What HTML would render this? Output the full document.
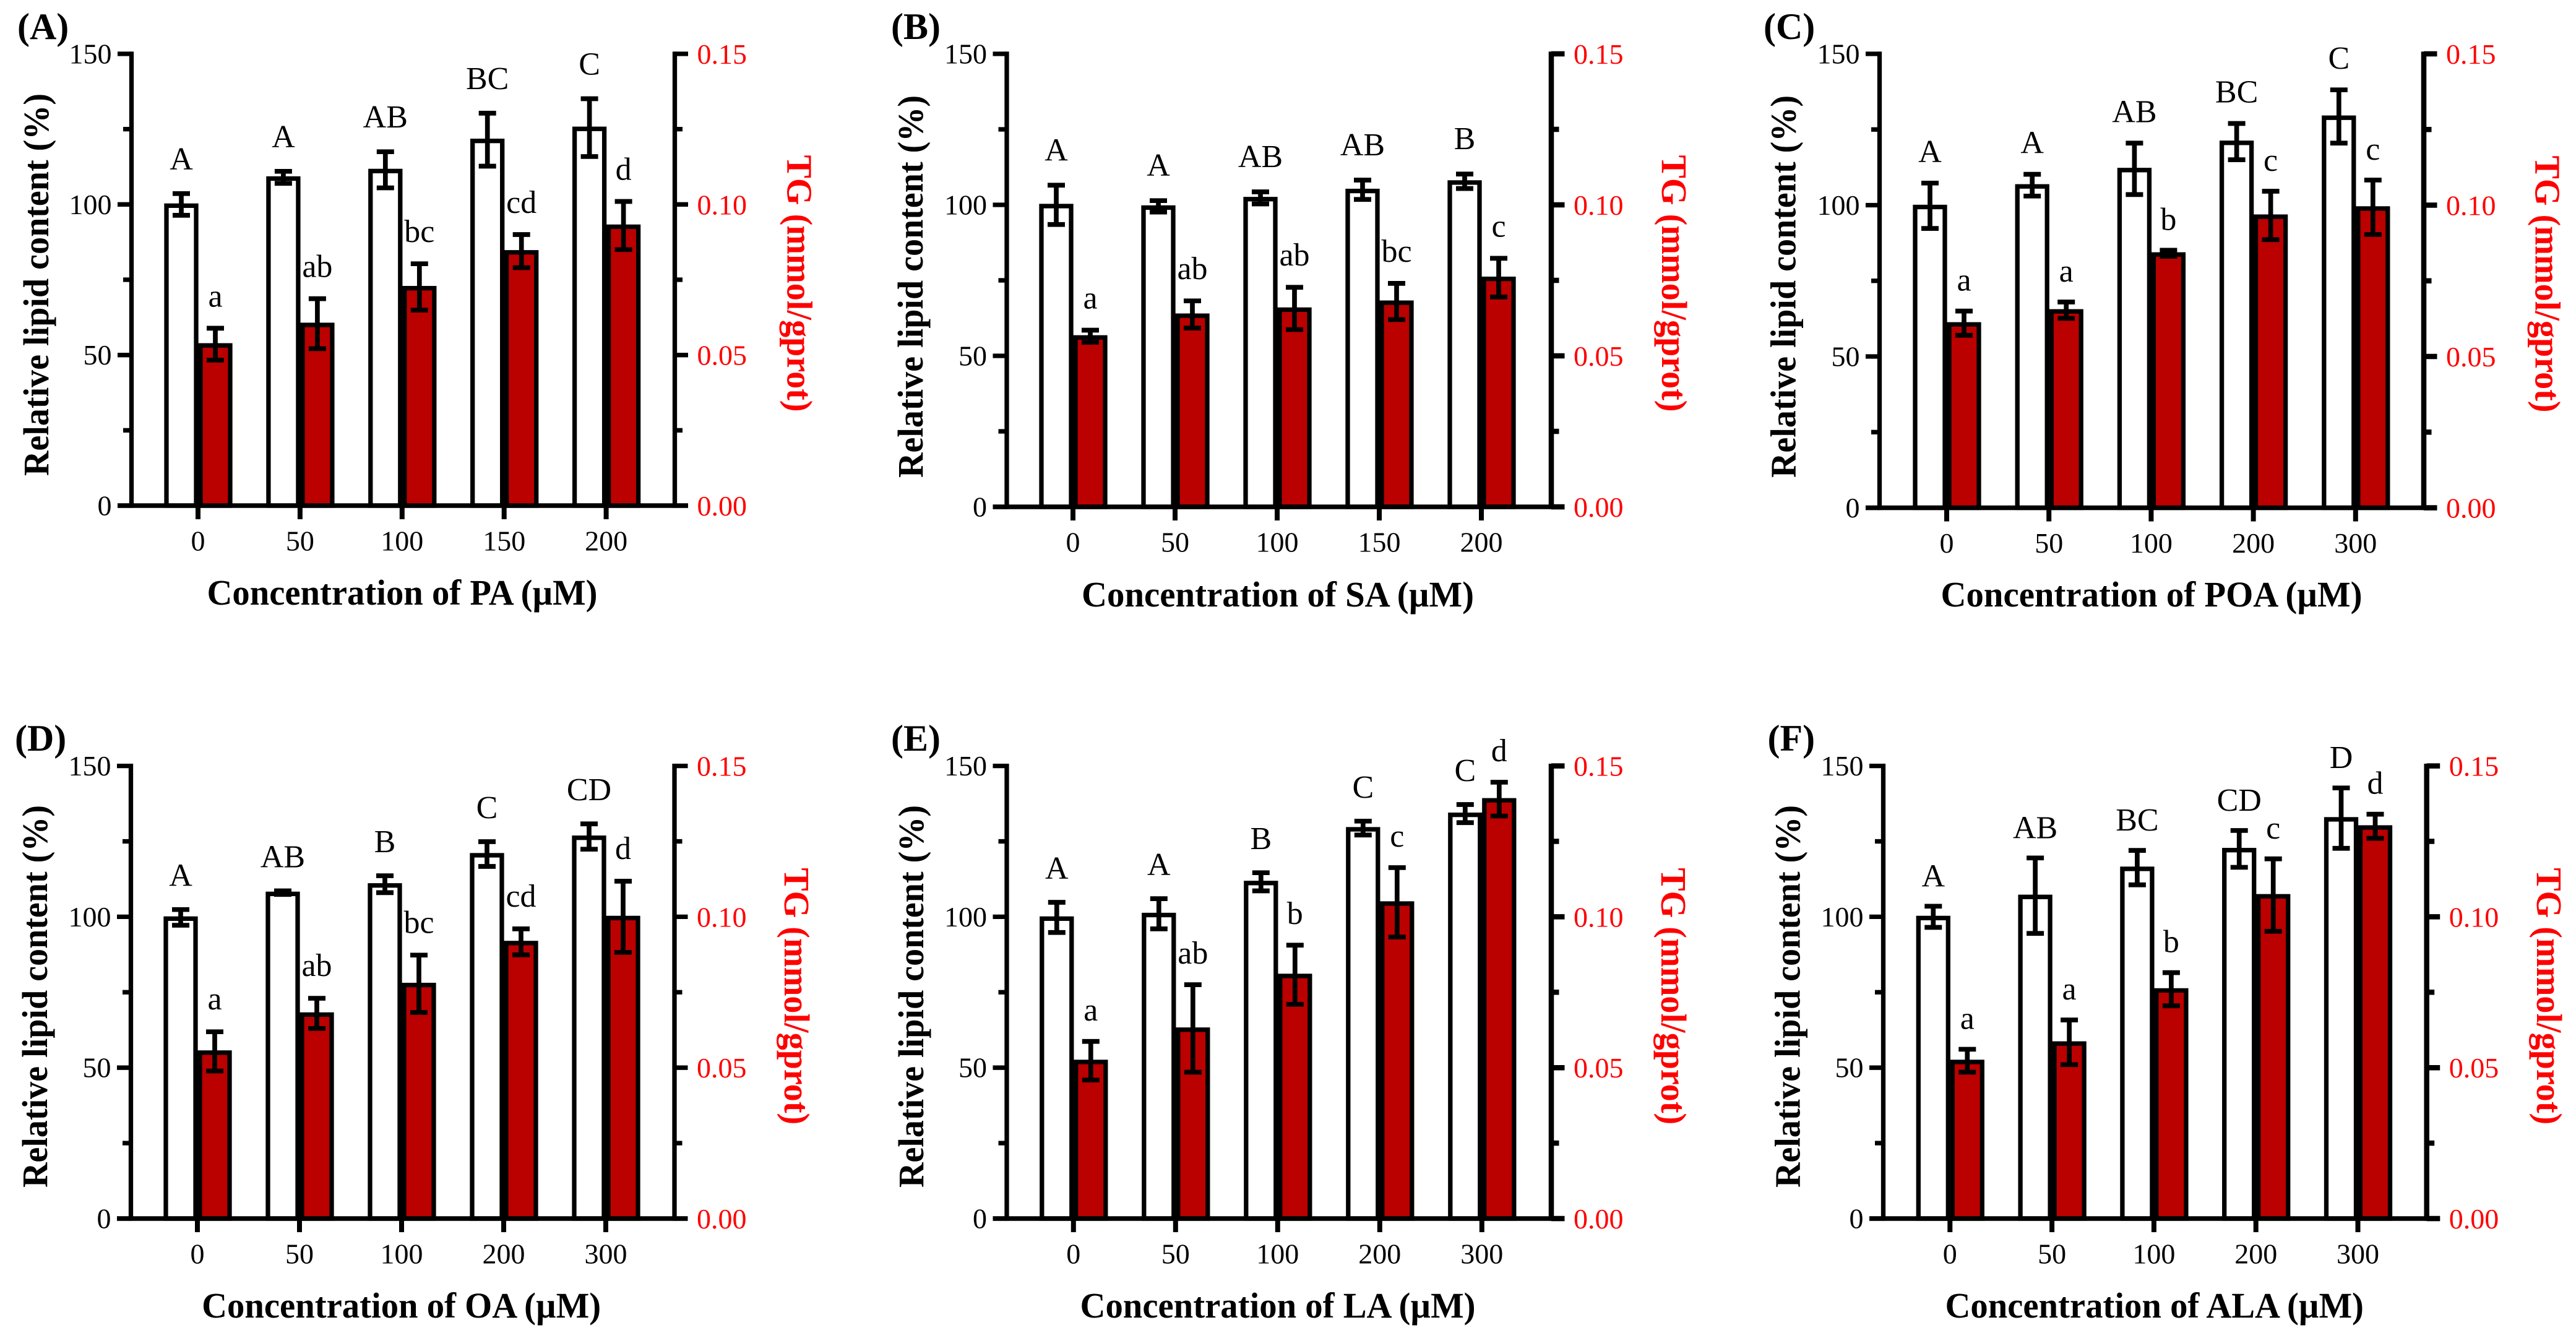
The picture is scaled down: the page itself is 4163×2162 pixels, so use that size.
<!DOCTYPE html>
<html lang="en">
<head>
<meta charset="utf-8">
<title>Lipid content and TG across fatty acid concentrations</title>
<style>
html,body{margin:0;padding:0;background:#fff;width:4163px;height:2162px;overflow:hidden}
svg{display:block}
text{font-family:"Liberation Serif",serif}
</style>
</head>
<body>
<svg id="figure" xmlns="http://www.w3.org/2000/svg" width="4163" height="2162" viewBox="0 0 4163 2162"></svg>
<script>
// ---- Panel A (PA) ----
const categoriesA = ['0','50','100','150','200'];
const lipidA = [100,109,111.5,121.5,125.5];
const lipidErrA = [3.6,2,6,8.8,9.6];
const tgA = [0.0536,0.0604,0.0726,0.0845,0.093];
const tgErrA = [0.0053,0.0083,0.0077,0.0055,0.008];
const lipidLettersA = ['A','A','AB','BC','C'];
const tgLettersA = ['a','ab','bc','cd','d'];
// ---- Panel B (SA) ----
const categoriesB = ['0','50','100','150','200'];
const lipidB = [100,99.5,102.3,105,107.8];
const lipidErrB = [6.5,1.9,2,3.2,2.4];
const tgB = [0.0565,0.0637,0.0657,0.068,0.0759];
const tgErrB = [0.002,0.0045,0.007,0.006,0.0064];
const lipidLettersB = ['A','A','AB','AB','B'];
const tgLettersB = ['a','ab','ab','bc','c'];
// ---- Panel C (POA) ----
const categoriesC = ['0','50','100','200','300'];
const lipidC = [99.8,106.6,112,121,129.3];
const lipidErrC = [7.5,3.6,8.5,6,8.8];
const tgC = [0.061,0.0653,0.0841,0.0966,0.0993];
const tgErrC = [0.004,0.0027,0.001,0.008,0.009];
const lipidLettersC = ['A','A','AB','BC','C'];
const tgLettersC = ['a','a','b','c','c'];
// ---- Panel D (OA) ----
const categoriesD = ['0','50','100','200','300'];
const lipidD = [99.8,108,110.8,120.8,126.6];
const lipidErrD = [2.6,0.6,2.8,4.1,4.2];
const tgD = [0.0554,0.068,0.0778,0.0917,0.1];
const tgErrD = [0.0065,0.005,0.0095,0.0043,0.0118];
const lipidLettersD = ['A','AB','B','C','CD'];
const tgLettersD = ['a','ab','bc','cd','d'];
// ---- Panel E (LA) ----
const categoriesE = ['0','50','100','200','300'];
const lipidE = [99.8,101,111.6,129.4,134.2];
const lipidErrE = [5,5,3,2.3,3];
const tgE = [0.0523,0.063,0.0808,0.1048,0.139];
const tgErrE = [0.0064,0.0145,0.0098,0.0115,0.0056];
const lipidLettersE = ['A','A','B','C','C'];
const tgLettersE = ['a','ab','b','c','d'];
// ---- Panel F (ALA) ----
const categoriesF = ['0','50','100','200','300'];
const lipidF = [100,107,116.3,122.5,132.7];
const lipidErrF = [3.5,12.5,5.7,6.1,10];
const tgF = [0.0523,0.0584,0.076,0.1072,0.13];
const tgErrF = [0.0038,0.0074,0.0055,0.012,0.004];
const lipidLettersF = ['A','AB','BC','CD','D'];
const tgLettersF = ['a','a','b','c','d'];
// ---- Shared axes ----
const leftMajorTicks = [0,50,100,150];
const leftMinorTicks = [25,75,125];
const rightMajorTicks = [0,0.05,0.10,0.15];
const rightMinorTicks = [0.025,0.075,0.125];
const leftTitle = 'Relative lipid content (%)';
const rightTitle = 'TG (mmol/gprot)';

const NS = 'http://www.w3.org/2000/svg';
const figure = document.getElementById('figure');
const BLACK = '#000';
const AXIS_RED = '#ff0000';
const BAR_RED = '#bb0000';

function make(tag, attrs, parent, txt){
  const n = document.createElementNS(NS, tag);
  for (const k in attrs) n.setAttribute(k, attrs[k]);
  if (txt !== undefined) n.textContent = txt;
  parent.appendChild(n);
  return n;
}

function drawErr(g, cx, yTop, yBot){
  return make('path', {
    d: 'M'+(cx-14)+' '+yTop+'H'+(cx+14)+'M'+(cx-14)+' '+yBot+'H'+(cx+14)+'M'+cx+' '+yTop+'V'+yBot,
    stroke: BLACK, 'stroke-width': 7.7, fill: 'none'
  }, g);
}

function drawPanel(p){
  const g = make('g', {}, figure);
  
  

  const yLeft = v => p.y0 - (v / 150) * (p.y0 - p.y150);
  const yRight = v => p.y0 - (v / 0.15) * (p.y0 - p.y150);
  const xTick = i => p.t0 + i * p.step;

  // panel letter
  const tag = make('text', {x: p.tagX, y: p.tagY, 'font-size': 60, 'font-weight': 'bold', fill: BLACK}, g, '(' + p.id + ')');
  
  

  // bars
  p.categories.forEach((c, i) => {
    const t = xTick(i);
    const wy = yLeft(p.lipid[i]) + 2;
    const wb = make('rect', {x: t-51, y: wy, width: 48, height: p.y0 - wy, fill: '#fff', stroke: BLACK, 'stroke-width': 7.3}, g);
    
    
  });
  p.categories.forEach((c, i) => {
    const t = xTick(i);
    const ry = yRight(p.tg[i]) + 2;
    const rb = make('rect', {x: t+4, y: ry, width: 48, height: p.y0 - ry, fill: BAR_RED, stroke: BLACK, 'stroke-width': 7.3}, g);
    
    
  });
  // error bars and significance letters
  p.categories.forEach((c, i) => {
    const t = xTick(i);
    const wx = t - 27, rx = t + 28;
    const wTop = yLeft(p.lipid[i] + p.lipidErr[i]);
    const rTop = yRight(p.tg[i] + p.tgErr[i]);
    const we = drawErr(g, wx, wTop, yLeft(p.lipid[i] - p.lipidErr[i]));
    
    
    const re = drawErr(g, rx, rTop, yRight(p.tg[i] - p.tgErr[i]));
    
    
    const wl = make('text', {x: wx, y: wTop - p.gapW, 'font-size': 52, 'text-anchor': 'middle', fill: BLACK}, g, p.lipidLetters[i]);
    
    
    const rl = make('text', {x: rx, y: rTop - p.gapR, 'font-size': 52, 'text-anchor': 'middle', fill: BLACK}, g, p.tgLetters[i]);
    
    
  });

  // left axis
  const la = make('line', {x1: p.xl, x2: p.xl, y1: p.y150 - 3.6, y2: p.y0 + 3.6, stroke: BLACK, 'stroke-width': 7.3}, g);
  
  
  leftMajorTicks.forEach(v => {
    const y = yLeft(v);
    const tk = make('line', {x1: p.xl - 22.5, x2: p.xl, y1: y, y2: y, stroke: BLACK, 'stroke-width': 7.3}, g);
    
    
    const lb = make('text', {x: p.xl - 32, y: y + 15.5, 'font-size': 46, 'text-anchor': 'end', fill: BLACK}, g, String(v));
    
    
  });
  leftMinorTicks.forEach(v => {
    const y = yLeft(v);
    const tk = make('line', {x1: p.xl - 13.5, x2: p.xl, y1: y, y2: y, stroke: BLACK, 'stroke-width': 7.3}, g);
    
    
  });

  // right axis
  const ra = make('line', {x1: p.xr, x2: p.xr, y1: p.y150 - 3.6, y2: p.y0 + 3.6, stroke: BLACK, 'stroke-width': p.rw}, g);
  
  
  rightMajorTicks.forEach(v => {
    const y = yRight(v);
    const tk = make('line', {x1: p.xr, x2: p.xr + 21.5, y1: y, y2: y, stroke: BLACK, 'stroke-width': p.rw}, g);
    
    
    const lb = make('text', {x: p.xr + 36, y: y + 16, 'font-size': 46, fill: AXIS_RED}, g, v.toFixed(2));
    
    
  });
  rightMinorTicks.forEach(v => {
    const y = yRight(v);
    const tk = make('line', {x1: p.xr, x2: p.xr + 12.5, y1: y, y2: y, stroke: BLACK, 'stroke-width': p.rw}, g);
    
    
  });

  // x axis
  const xa = make('line', {x1: p.xl - 22.5, x2: p.xr + 21.5, y1: p.y0, y2: p.y0, stroke: BLACK, 'stroke-width': 7.5}, g);
  
  
  p.categories.forEach((c, i) => {
    const t = xTick(i);
    const tk = make('line', {x1: t, x2: t, y1: p.y0, y2: p.y0 + 22, stroke: BLACK, 'stroke-width': 8}, g);
    
    
    const lb = make('text', {x: t, y: p.y0 + 72.5, 'font-size': 46, 'text-anchor': 'middle', fill: BLACK}, g, c);
    
    
  });

  // titles
  const xt = make('text', {x: p.xtX, y: p.xtY, 'font-size': 58, 'font-weight': 'bold', 'text-anchor': 'middle', fill: BLACK, textLength: p.xtLen, lengthAdjust: 'spacingAndGlyphs'}, g, 'Concentration of ' + p.acid + ' (\u00b5M)');
  
  
  const lt = make('text', {transform: 'translate(' + p.ltX + ' ' + p.ltY + ') rotate(-90)', 'font-size': 58, 'font-weight': 'bold', 'text-anchor': 'middle', fill: BLACK, textLength: 618, lengthAdjust: 'spacingAndGlyphs'}, g, leftTitle);
  
  
  const rt = make('text', {transform: 'translate(' + p.rtX + ' ' + p.rtY + ') rotate(90)', 'font-size': 58, 'font-weight': 'bold', 'text-anchor': 'middle', fill: AXIS_RED, textLength: 415, lengthAdjust: 'spacingAndGlyphs'}, g, rightTitle);
  
  
}

drawPanel({id:'A', acid:'PA', categories:categoriesA, lipid:lipidA, lipidErr:lipidErrA, tg:tgA, tgErr:tgErrA, lipidLetters:lipidLettersA, tgLetters:tgLettersA,
  xl:212.5, xr:1090.5, rw:7.3, t0:320, step:164.9, y0:817, y150:87, gapW:39, gapR:35,
  tagX:28, tagY:63, xtX:650, xtY:977, xtLen:631, ltX:78, ltY:460, rtX:1272.5, rtY:458});
drawPanel({id:'B', acid:'SA', categories:categoriesB, lipid:lipidB, lipidErr:lipidErrB, tg:tgB, tgErr:tgErrB, lipidLetters:lipidLettersB, tgLetters:tgLettersB,
  xl:1627, xr:2507, rw:8.5, t0:1734, step:165, y0:819, y150:87, gapW:40, gapR:35,
  tagX:1440, tagY:63, xtX:2065, xtY:980, xtLen:634, ltX:1491, ltY:463, rtX:2686, rtY:458});
drawPanel({id:'C', acid:'POA', categories:categoriesC, lipid:lipidC, lipidErr:lipidErrC, tg:tgC, tgErr:tgErrC, lipidLetters:lipidLettersC, tgLetters:tgLettersC,
  xl:3037.5, xr:3917, rw:8.5, t0:3146, step:165.2, y0:820.5, y150:87, gapW:34, gapR:33,
  tagX:2850, tagY:63, xtX:3477, xtY:980, xtLen:681, ltX:2901.7, ltY:463, rtX:4097.6, rtY:459});
drawPanel({id:'D', acid:'OA', categories:categoriesD, lipid:lipidD, lipidErr:lipidErrD, tg:tgD, tgErr:tgErrD, lipidLetters:lipidLettersD, tgLetters:tgLettersD,
  xl:211.5, xr:1090, rw:7.3, t0:319, step:165, y0:1969, y150:1237.6, gapW:38, gapR:36,
  tagX:24, tagY:1213, xtX:648.6, xtY:2129, xtLen:645, ltX:76, ltY:1610, rtX:1268, rtY:1609.7});
drawPanel({id:'E', acid:'LA', categories:categoriesE, lipid:lipidE, lipidErr:lipidErrE, tg:tgE, tgErr:tgErrE, lipidLetters:lipidLettersE, tgLetters:tgLettersE,
  xl:1627, xr:2507, rw:8.5, t0:1734.8, step:165, y0:1969, y150:1237.6, gapW:38, gapR:34,
  tagX:1440, tagY:1213, xtX:2065, xtY:2129, xtLen:639, ltX:1492, ltY:1610, rtX:2685, rtY:1609.7});
drawPanel({id:'F', acid:'ALA', categories:categoriesF, lipid:lipidF, lipidErr:lipidErrF, tg:tgF, tgErr:tgErrF, lipidLetters:lipidLettersF, tgLetters:tgLettersF,
  xl:3043.5, xr:3921.7, rw:8.5, t0:3151.3, step:164.8, y0:1969, y150:1237.6, gapW:32, gapR:33,
  tagX:2856.5, tagY:1213, xtX:3481.7, xtY:2129, xtLen:676.5, ltX:2908.7, ltY:1610, rtX:4100, rtY:1609.7});
</script>
</body>
</html>
